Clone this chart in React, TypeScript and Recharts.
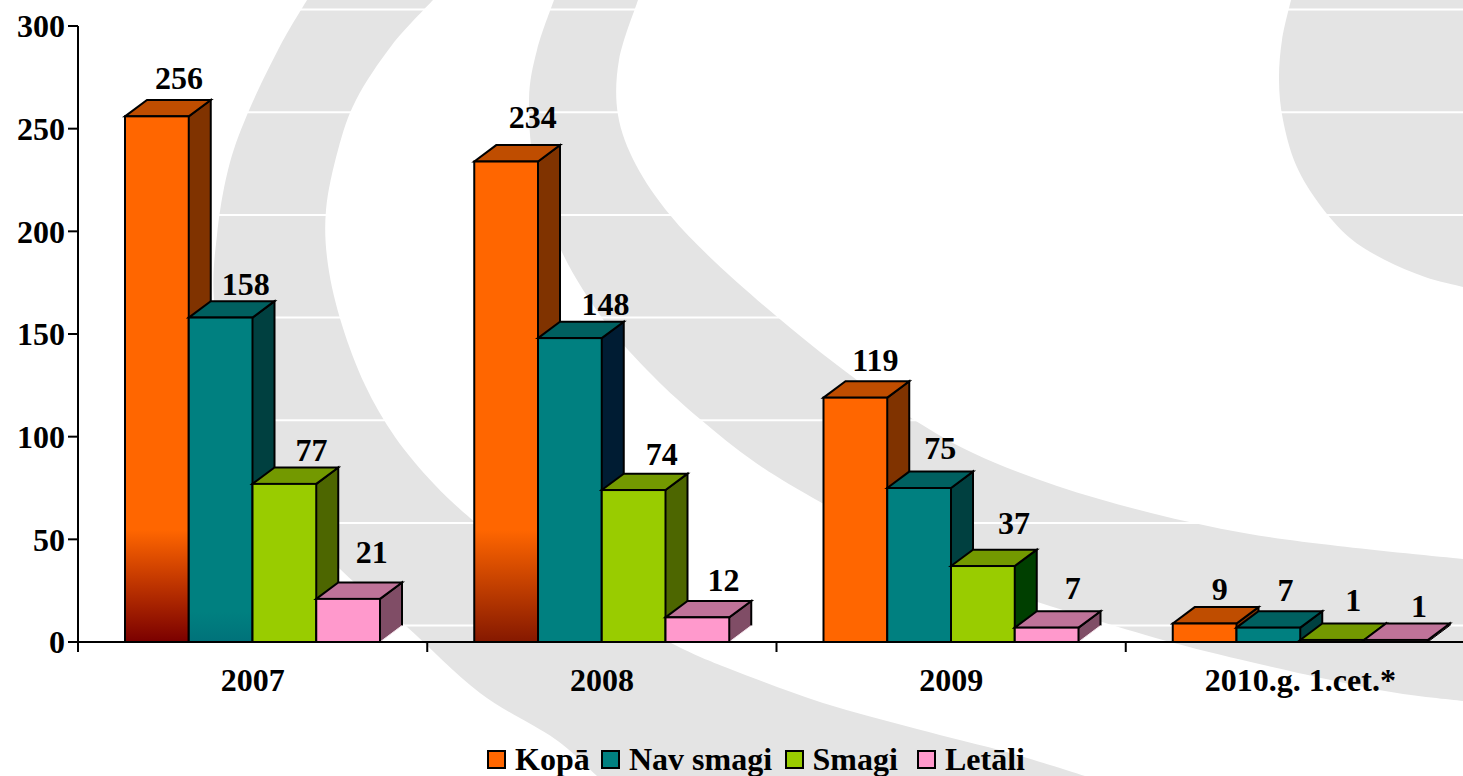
import React from "react";
import { BarChart, Bar, XAxis, YAxis, CartesianGrid, Legend, LabelList } from "recharts";

const categories = ["2007", "2008", "2009", "2010.g. 1.cet.*"];
const kopa = [256, 234, 119, 9];
const navSmagi = [158, 148, 75, 7];
const smagi = [77, 74, 37, 1];
const letali = [21, 12, 7, 1];
const yTicks = [0, 50, 100, 150, 200, 250, 300];
const seriesNames = ["Kopā", "Nav smagi", "Smagi", "Letāli"];

const data = categories.map((name, i) => ({
  name,
  kopa: kopa[i],
  navSmagi: navSmagi[i],
  smagi: smagi[i],
  letali: letali[i],
}));

const FONT = "'Liberation Serif', 'Times New Roman', serif";
const FONT_SIZE = 32;
const CHART_W = 1475;
const CHART_H = 776;
const PLOT_LEFT = 78;
const PLOT_TOP = 26;
const AXIS_H = 134;
const STEP = (CHART_W - PLOT_LEFT) / categories.length;
const DX = 22;
const DY = 16.4;
const GREY = "#E4E4E4";

type Look = { front: string; top: string; side: string };
const looks: Record<string, Look> = {
  kopa: { front: "#FF6600", top: "#BF4D00", side: "#803300" },
  navSmagi: { front: "#008080", top: "#006060", side: "#004040" },
  smagi: { front: "#99CC00", top: "#739900", side: "#4D6600" },
  letali: { front: "#FF99CC", top: "#BF7399", side: "#804D66" },
};
// per-bar colour exceptions seen in the reference
const sideOverride: Record<string, string> = { "navSmagi-1": "#001C33", "smagi-2": "#003F00" };
const bottomFade: Record<string, { to: string; span: number }> = {
  "kopa-0": { to: "#7A0000", span: 112 },
  "kopa-1": { to: "#851800", span: 112 },
  "navSmagi-0": { to: "#00727A", span: 30 },
};
// label nudges from the top-centre of each bar's front face: [dx, dy] by series then category
const labelNudge: Record<string, [number, number][]> = {
  kopa: [[22, -38], [26.5, -45], [20, -38], [15, -35]],
  navSmagi: [[25, -34], [35.5, -34], [21, -40], [17, -38]],
  smagi: [[27, -34], [28, -36], [31, -43], [21, -40]],
  letali: [[23.5, -47], [26, -37], [26, -40], [23, -34]],
};

function Box3D(seriesKey: string) {
  return function Shape(props: any) {
    const { x, y, width, height, index } = props;
    const look = looks[seriesKey];
    const key = `${seriesKey}-${index}`;
    const fade = bottomFade[key];
    const base = y + height;
    const id = `fade-${key}`;
    const side = sideOverride[key] ?? look.side;
    const sw = 2;
    return (
      <g>
        {fade && (
          <defs>
            <linearGradient id={id} gradientUnits="userSpaceOnUse" x1="0" x2="0" y1={base - fade.span} y2={base}>
              <stop offset="0" stopColor={look.front} />
              <stop offset="1" stopColor={fade.to} />
            </linearGradient>
          </defs>
        )}
        <path
          d={`M${x + width},${y} l${DX},${-DY} V${base - DY} l${-DX},${DY} Z`}
          fill={side}
          stroke="none"
        />
        <path
          d={`M${x + width},${y} l${DX},${-DY} V${base - DY}`}
          fill="none"
          stroke="#000"
          strokeWidth={sw}
        />
        <path d={`M${x + width},${base} l${DX},${-DY}`} fill="none" stroke={height > 3 ? "#F4E4EC" : "#000"} strokeWidth={1} />
        <path
          d={`M${x},${y} l${DX},${-DY} h${width} l${-DX},${DY} Z`}
          fill={look.top}
          stroke="#000"
          strokeWidth={sw}
          strokeLinejoin="miter"
        />
        <rect x={x} y={y} width={width} height={height} fill={fade ? `url(#${id})` : look.front} stroke="#000" strokeWidth={sw} />
      </g>
    );
  };
}

function BarLabel(seriesKey: string) {
  return function Lab(props: any) {
    const { x, y, width, value, index } = props;
    const [dx, dy] = labelNudge[seriesKey][index];
    return (
      <text
        x={x + width / 2 + dx}
        y={y + dy + 11}
        textAnchor="middle"
        fontFamily={FONT}
        fontWeight="bold"
        fontSize={FONT_SIZE}
        fill="#000"
      >
        {value}
      </text>
    );
  };
}

function CategoryTick(props: any) {
  const { x, y, payload } = props;
  const base = y;
  return (
    <g>
      <line x1={x - STEP / 2} x2={x - STEP / 2} y1={base} y2={base + 10} stroke="#000" strokeWidth={2} />
      <text x={x} y={base + 49} textAnchor="middle" fontFamily={FONT} fontWeight="bold" fontSize={FONT_SIZE} fill="#000">
        {payload.value}
      </text>
    </g>
  );
}

function LegendBox() {
  const swatch = [looks.kopa.front, looks.navSmagi.front, looks.smagi.front, looks.letali.front];
  const itemWidth = [114, 183.5, 132.5, 130];
  return (
    <div style={{ display: "flex", paddingLeft: 487, height: 40, fontFamily: FONT, fontWeight: "bold", fontSize: FONT_SIZE, lineHeight: "34px", color: "#000" }}>
      {seriesNames.map((name, i) => (
        <div key={name} style={{ width: itemWidth[i], display: "flex", alignItems: "center", whiteSpace: "nowrap" }}>
          <span style={{ display: "inline-block", boxSizing: "border-box", width: 19, height: 19, background: swatch[i], border: "2px solid #000", marginRight: 9 }} />
          <span>{name}</span>
        </div>
      ))}
    </div>
  );
}

// smooth band outline through traced points
function smooth(pts: number[][]) {
  let d = `M${pts[0][0]},${pts[0][1]}`;
  for (let i = 0; i < pts.length - 1; i++) {
    const p0 = pts[Math.max(i - 1, 0)];
    const p1 = pts[i];
    const p2 = pts[i + 1];
    const p3 = pts[Math.min(i + 2, pts.length - 1)];
    d += ` C${p1[0] + (p2[0] - p0[0]) / 6},${p1[1] + (p2[1] - p0[1]) / 6} ${p2[0] - (p3[0] - p1[0]) / 6},${p2[1] - (p3[1] - p1[1]) / 6} ${p2[0]},${p2[1]}`;
  }
  return d;
}
const bandOf = (a: number[][], b: number[][]) => `${smooth(a)} L${b[0][0]},${b[0][1]} ${smooth(b).replace(/^M[^ ]+ /, "")} Z`;

const bandAOuter = [[307, 0], [279, 48], [247, 115], [228, 170], [217, 235], [214, 300], [228, 400], [270, 490], [340, 569], [406, 626], [480, 693], [555, 739], [597, 776]];
const bandAInner = [[1085, 776], [1010, 753], [917, 729], [823, 703], [730, 669], [677, 646], [600, 605], [530, 565], [476, 523], [434, 484], [395, 437], [365, 385], [342, 325], [328, 265], [326, 210], [338, 150], [356, 100], [392, 45], [433, 0]];
const bandBOuter = [[554, 0], [537, 50], [529, 100], [535, 170], [561, 250], [605, 322], [653, 376], [700, 419], [756, 463], [822, 503], [930, 560], [1020, 596], [1099, 621], [1174, 643], [1268, 666], [1385, 691], [1463, 701]];
const bandBInner = [[1463, 559], [1338, 546], [1244, 533], [1151, 513], [1057, 486], [973, 453], [905, 414], [837, 365], [775, 315], [715, 262], [670, 215], [636, 165], [618, 115], [619, 60], [638, 0]];
const bandC = [[1291, 0], [1282, 40], [1279, 80], [1283, 120], [1296, 165], [1320, 205], [1350, 238], [1385, 260], [1425, 277], [1463, 287]];

function Backdrop() {
  return (
    <svg width={1463} height={776} style={{ position: "absolute", left: 0, top: 0 }}>
      <path d={bandOf(bandAOuter, bandAInner)} fill={GREY} />
      <path d={bandOf(bandBOuter, bandBInner)} fill={GREY} />
      <path d={`${smooth(bandC)} L1463,0 Z`} fill={GREY} />
    </svg>
  );
}

const seriesKeys = ["kopa", "navSmagi", "smagi", "letali"];

export default function App() {
  return (
    <div style={{ position: "fixed", left: 0, top: 0, width: 1463, height: 776, overflow: "hidden", background: "#fff" }}>
      <Backdrop />
      <div style={{ position: "absolute", left: 0, top: 0 }}>
        <BarChart
          width={CHART_W}
          height={CHART_H}
          data={data}
          margin={{ top: PLOT_TOP, right: 0, bottom: 0, left: 0 }}
          barSize={63.75}
          barGap={0}
        >
          <CartesianGrid
            vertical={false}
            horizontal={(p: any) => (
              <line key={p.key ?? p.y1} x1={p.x1 + DX} x2={p.x2} y1={p.y1 - DY} y2={p.y2 - DY} stroke="#fff" strokeWidth={2} />
            )}
          />
          <YAxis
            width={PLOT_LEFT}
            domain={[0, 300]}
            ticks={yTicks}
            interval={0}
            axisLine={{ stroke: "#000", strokeWidth: 2 }}
            tickLine={{ stroke: "#000", strokeWidth: 2 }}
            tickSize={10}
            tickMargin={3}
            tick={{ fontFamily: FONT, fontWeight: "bold", fontSize: FONT_SIZE, fill: "#000" }}
          />
          {seriesKeys.map((k) => (
            <Bar key={k} dataKey={k} isAnimationActive={false} shape={Box3D(k)}>
              <LabelList dataKey={k} content={BarLabel(k)} />
            </Bar>
          ))}
          <XAxis
            dataKey="name"
            height={AXIS_H}
            interval={0}
            axisLine={{ stroke: "#000", strokeWidth: 2 }}
            tickLine={false}
            tickSize={0}
            tickMargin={0}
            tick={<CategoryTick />}
          />
          <Legend
            verticalAlign="middle"
            align="center"
            content={<LegendBox />}
            wrapperStyle={{ position: "absolute", left: 0, top: 739, width: 1463, height: 40 }}
          />
        </BarChart>
      </div>
    </div>
  );
}
